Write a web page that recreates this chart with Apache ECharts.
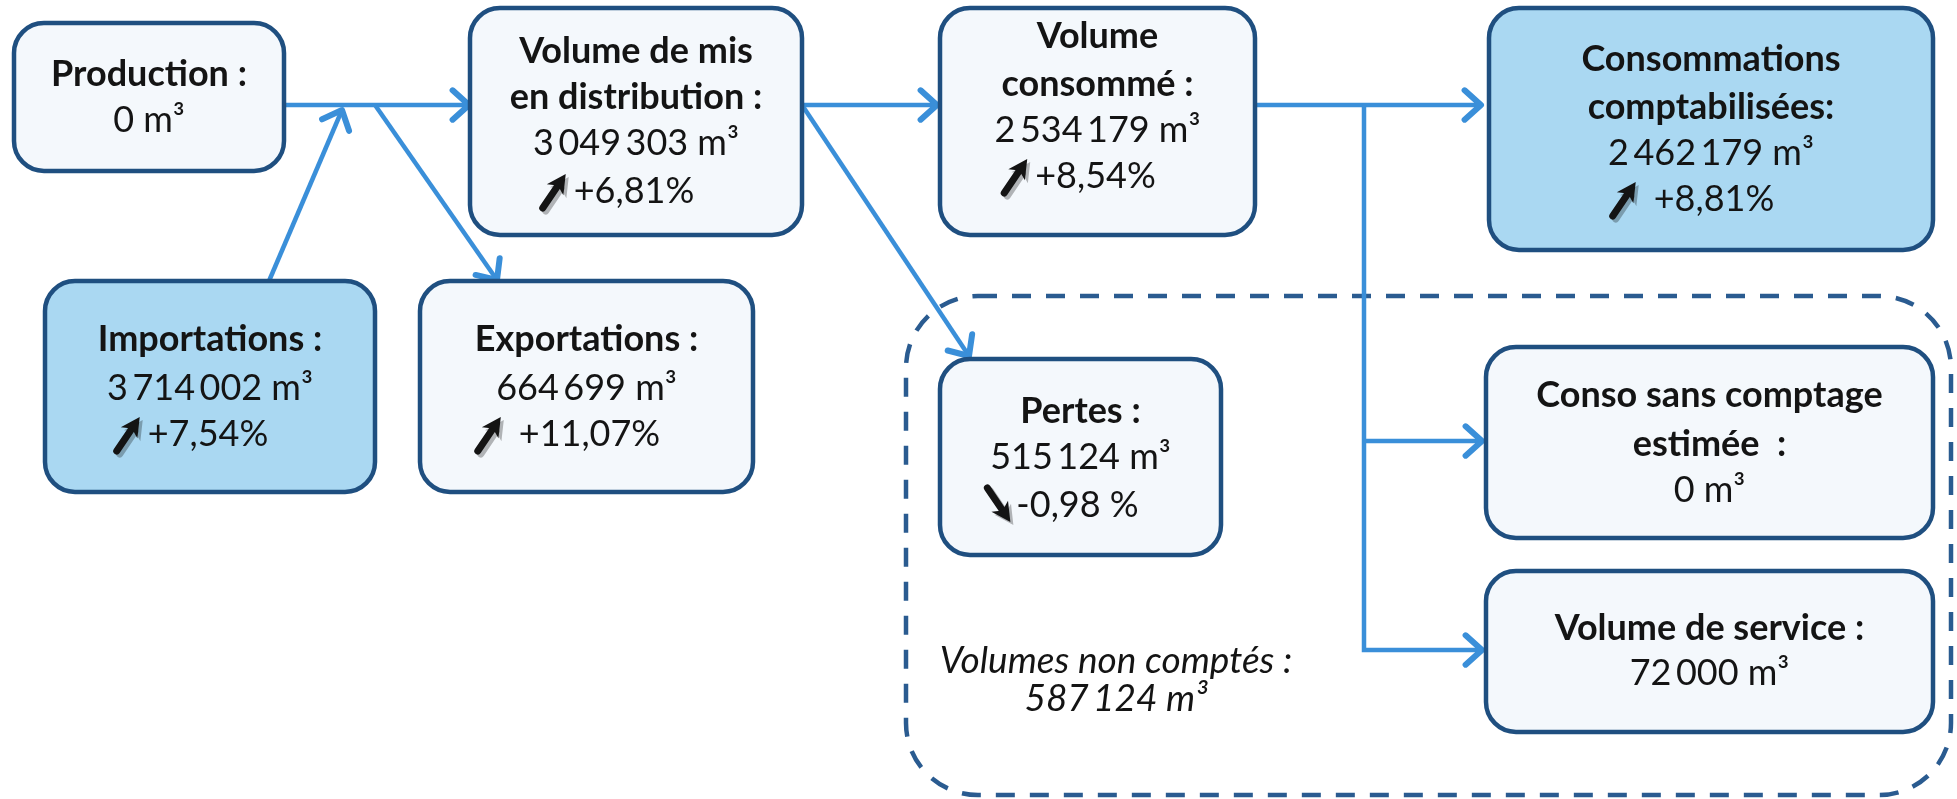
<!DOCTYPE html>
<html><head><meta charset="utf-8">
<script src="https://cdn.jsdelivr.net/npm/echarts@6/dist/echarts.min.js"></script>
<style>html,body{margin:0;padding:0;background:#ffffff}#c{width:1957px;height:799px}</style>
</head><body><div id="c"></div>
<script>
// ---------------- DATA ----------------
const titles = ['Production :', 'Volume de mis\nen distribution :', 'Volume\nconsommé :', 'Consommations\ncomptabilisées:', 'Importations :', 'Exportations :', 'Pertes :', 'Conso sans comptage\nestimée  :', 'Volume de service :'];
const volumes = [0, 3049303, 2534179, 2462179, 3714002, 664699, 515124, 0, 72000];
const changes = [null, 6.81, 8.54, 8.81, 7.54, 11.07, -0.98, null, null];
const nonCountedTitle = 'Volumes non comptés :';
const nonCountedVolume = 587124;

// ---------------- LAYOUT (diagram space, px) ----------------
const boxLayout = [
  {x0:14,  y0:23,  x1:284,  y1:171, lines:[74,120]},
  {x0:470, y0:8,   x1:802,  y1:235, lines:[51,97,143,191], gap:2},
  {x0:940, y0:8,   x1:1255, y1:235, lines:[36,84,130,176], gap:2},
  {x0:1489,y0:8,   x1:1933, y1:250, lines:[59,107,153,199], blue:true, gap:12},
  {x0:45,  y0:281, x1:375,  y1:492, lines:[339,388,434], blue:true, gap:2},
  {x0:420, y0:281, x1:753,  y1:492, lines:[339,388,434], gap:12},
  {x0:940, y0:359, x1:1221, y1:555, lines:[411,457,505], gap:0},
  {x0:1486,y0:347, x1:1933, y1:538, lines:[395,444,490]},
  {x0:1486,y0:571, x1:1933, y1:732, lines:[628,673]}
];
const connectors = [
  [[266,105],[469,105]],
  [[269,281],[342,110]],
  [[375,105],[497,280]],
  [[802,105],[937,105]],
  [[802,105],[969,356]],
  [[1255,105],[1481,105]],
  [[1364,105],[1364,650],[1482,650]],
  [[1364,441],[1482,441]]
];
const dashedBox = {x0:906, y0:296, x1:1951, y1:795, r:72};
const nonCountedPos = {x:1116, y1:661, y2:699};

const FONT = 'Lato, "Open Sans", sans-serif';
const BOLD = 'bold 36px ' + FONT;
const REG = '36px ' + FONT;
const ITAL = 'italic 37px ' + FONT;
const TXT = '#141414';
const BORDER = '#1f4f80';
const FILL = '#f4f8fc';
const BLUE = '#aad8f2';
const LINE = '#3a8fd9';
const DASH = '#2a5b90';

const mctx = document.createElement('canvas').getContext('2d');
function measure(t, f){ mctx.font = f; return mctx.measureText(t).width; }
const fmtVol = v => String(v).replace(/\B(?=(\d{3})+(?!\d))/g, '\u2009') + ' m³';
const fmtPct = v => (v > 0 ? '+' : '') + v.toFixed(2).replace('.', ',') + (v < 0 ? ' %' : '%');

function textEl(x, y, t, font, align){
  return {type:'text', x:x, y:y, style:{text:t, font:font, fill:TXT, align:align||'center', verticalAlign:'middle'}};
}
function trendIcon(x, cy, up){
  const w = 26, h = 34;
  const y0 = cy - h/2;
  const tail = up ? [x + 3, y0 + h] : [x + 3, y0];
  const tip = up ? [x + w, y0] : [x + w, y0 + h];
  const dx = tip[0]-tail[0], dy = tip[1]-tail[1], L = Math.hypot(dx, dy);
  const ux = dx/L, uy = dy/L, nx = -uy, ny = ux;
  const hl = 19, hw = 10;
  const bc = [tip[0]-ux*hl, tip[1]-uy*hl];
  const nb = [tip[0]-ux*(hl-5), tip[1]-uy*(hl-5)];
  const head = [tip, [bc[0]+nx*hw, bc[1]+ny*hw], nb, [bc[0]-nx*hw, bc[1]-ny*hw]];
  const mk = (ox, oy, col) => [
    {type:'line', shape:{x1:tail[0]+ox, y1:tail[1]+oy, x2:nb[0]+ox, y2:nb[1]+oy}, style:{stroke:col, lineWidth:7, lineCap:'round'}},
    {type:'polygon', shape:{points:head.map(p => [p[0]+ox, p[1]+oy])}, style:{fill:col}}
  ];
  return mk(3, 3, 'rgba(0,0,0,0.28)').concat(mk(0, 0, '#141414'));
}

function renderBox(params, api){
  const i = api.value(0);
  const L = boxLayout[i];
  const p0 = api.coord([L.x0, L.y0]), p1 = api.coord([L.x1, L.y1]);
  const cx = (p0[0] + p1[0]) / 2;
  const Y = v => api.coord([0, v])[1];
  const ch = [{type:'rect', shape:{x:p0[0], y:p0[1], width:p1[0]-p0[0], height:p1[1]-p0[1], r:30},
    style:{fill: L.blue ? BLUE : FILL, stroke:BORDER, lineWidth:4.5}}];
  let k = 0;
  titles[i].split('\n').forEach(t => ch.push(textEl(cx, Y(L.lines[k++]), t, BOLD)));
  ch.push(textEl(cx, Y(L.lines[k++]), fmtVol(volumes[i]), REG));
  if (changes[i] != null) {
    const s = fmtPct(changes[i]);
    const g = L.gap || 0;
    const tw = measure(s, REG), iw = 30 + g;
    const start = cx - 20 - (iw + tw) / 2;
    const yy = Y(L.lines[k]);
    ch.push.apply(ch, trendIcon(start, yy, changes[i] > 0));
    ch.push(textEl(start + iw + 2, yy, s, REG, 'left'));
  }
  return {type:'group', children:ch};
}
function renderConn(params, api){
  const pts = connectors[api.value(0)].map(p => api.coord(p));
  const n = pts.length, a = pts[n-2], b = pts[n-1];
  const ang = Math.atan2(b[1]-a[1], b[0]-a[0]);
  const len = 22, sp = Math.PI / 4.3;
  const h1 = [b[0]-len*Math.cos(ang-sp), b[1]-len*Math.sin(ang-sp)];
  const h2 = [b[0]-len*Math.cos(ang+sp), b[1]-len*Math.sin(ang+sp)];
  return {type:'group', children:[
    {type:'polyline', shape:{points:pts}, style:{stroke:LINE, lineWidth:4.5, fill:null}},
    {type:'polyline', shape:{points:[h1, b, h2]}, style:{stroke:LINE, lineWidth:6, fill:null, lineCap:'round', lineJoin:'round'}}
  ]};
}
function renderDashed(params, api){
  const p0 = api.coord([dashedBox.x0, dashedBox.y0]), p1 = api.coord([dashedBox.x1, dashedBox.y1]);
  const cx = api.coord([nonCountedPos.x, 0])[0];
  return {type:'group', children:[
    {type:'rect', shape:{x:p0[0], y:p0[1], width:p1[0]-p0[0], height:p1[1]-p0[1], r:dashedBox.r},
      style:{fill:null, stroke:DASH, lineWidth:4.5, lineDash:[19, 15]}},
    textEl(cx, api.coord([0, nonCountedPos.y1])[1], nonCountedTitle, ITAL),
    textEl(cx, api.coord([0, nonCountedPos.y2])[1], fmtVol(nonCountedVolume), ITAL)
  ]};
}

const chart = echarts.init(document.getElementById('c'));
chart.setOption({
  animation:false,
  backgroundColor:'#ffffff',
  grid:{left:0, right:0, top:0, bottom:0},
  xAxis:{type:'value', min:0, max:1957, show:false},
  yAxis:{type:'value', min:0, max:799, inverse:true, show:false},
  series:[
    {type:'custom', coordinateSystem:'cartesian2d', renderItem:renderDashed, data:[[0,0]], z:1, silent:true},
    {type:'custom', coordinateSystem:'cartesian2d', renderItem:renderConn, data:connectors.map((c,i)=>[i,0]), z:2, silent:true},
    {type:'custom', coordinateSystem:'cartesian2d', renderItem:renderBox, data:boxLayout.map((b,i)=>[i,0]), z:3, silent:true}
  ]
});
</script></body></html>
